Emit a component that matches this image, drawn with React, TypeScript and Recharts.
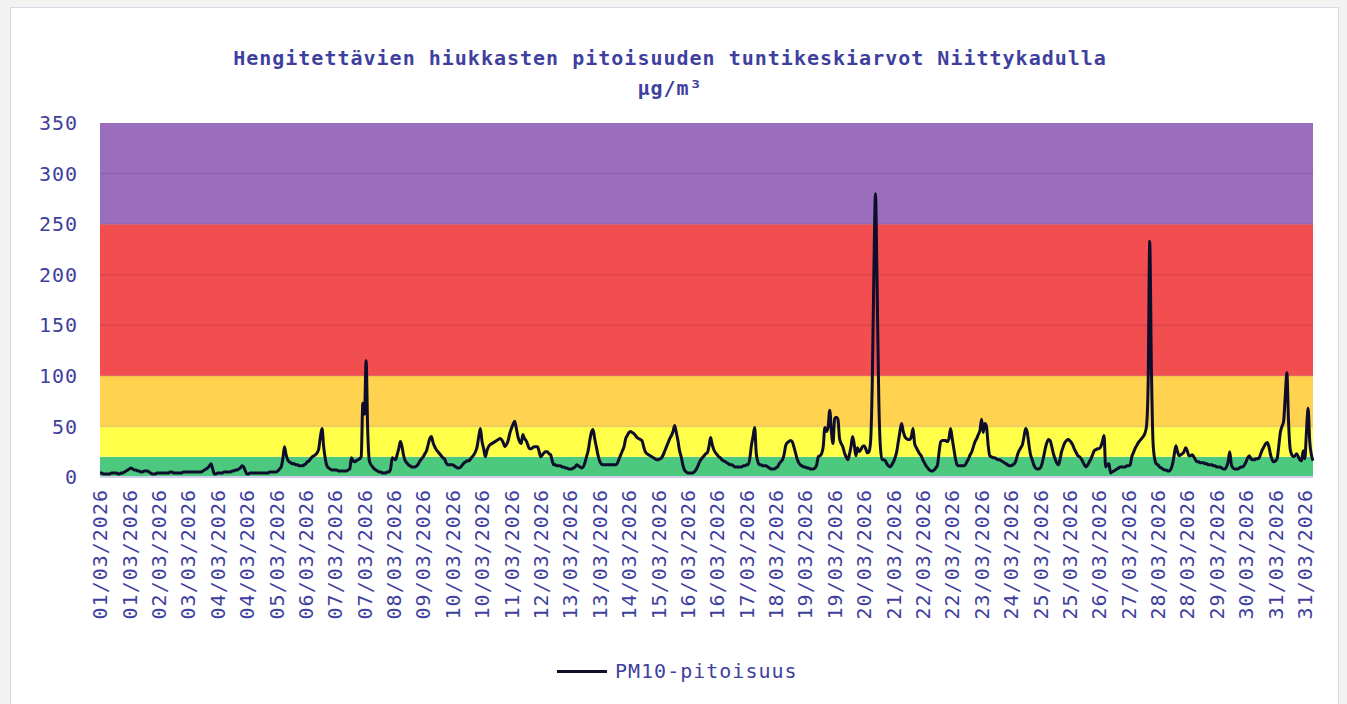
import React from "react";
import { LineChart, Line, XAxis, YAxis, ReferenceArea, ReferenceLine } from "recharts";

// hourly PM10 values, one array per day of March 2026 (hours 00..23)
const d01 = [4, 4, 3, 3, 3, 3, 3, 4, 4, 4, 4, 3, 3, 4, 4, 5, 6, 7, 8, 9, 8, 7, 7, 6];
const d02 = [6, 5, 5, 6, 6, 6, 5, 4, 3, 3, 3, 4, 4, 4, 4, 4, 4, 4, 4, 5, 5, 4, 4, 4];
const d03 = [4, 4, 4, 5, 5, 5, 5, 5, 5, 5, 5, 5, 5, 5, 5, 6, 7, 8, 9, 11, 13, 8, 3, 3];
const d04 = [4, 4, 4, 4, 5, 5, 5, 5, 5, 6, 6, 7, 7, 8, 9, 11, 10, 6, 3, 3, 4, 4, 4, 4];
const d05 = [4, 4, 4, 4, 4, 4, 4, 4, 5, 5, 5, 5, 5, 6, 8, 10, 18, 30, 22, 17, 15, 14, 13, 13];
const d06 = [12, 12, 11, 11, 11, 12, 13, 15, 16, 18, 20, 21, 22, 24, 28, 40, 48, 30, 18, 11, 9, 8, 7, 7];
const d07 = [7, 7, 6, 6, 6, 6, 6, 6, 7, 8, 19, 16, 15, 16, 17, 18, 20, 73, 62, 115, 45, 16, 12, 10];
const d08 = [8, 7, 6, 5, 5, 4, 4, 4, 5, 5, 8, 19, 18, 17, 22, 28, 35, 30, 21, 16, 14, 12, 11, 10];
const d09 = [10, 10, 11, 13, 16, 18, 20, 23, 26, 32, 38, 40, 34, 30, 27, 25, 23, 21, 19, 18, 14, 12, 12, 12];
const d10 = [12, 11, 10, 9, 9, 10, 12, 14, 15, 16, 16, 18, 20, 22, 25, 30, 40, 48, 35, 28, 20, 26, 30, 32];
const d11 = [33, 34, 35, 36, 37, 38, 37, 34, 30, 32, 36, 43, 48, 52, 55, 48, 40, 35, 33, 42, 38, 36, 32, 28];
const d12 = [28, 29, 30, 30, 30, 25, 20, 22, 24, 25, 25, 23, 22, 16, 12, 12, 11, 11, 11, 10, 10, 9, 9, 8];
const d13 = [8, 8, 9, 10, 12, 11, 10, 9, 10, 14, 20, 26, 36, 44, 47, 38, 30, 22, 16, 13, 12, 12, 12, 12];
const d14 = [12, 12, 12, 12, 12, 14, 18, 22, 26, 30, 38, 41, 44, 45, 44, 43, 41, 39, 38, 37, 36, 30, 25, 23];
const d15 = [22, 21, 20, 19, 18, 17, 17, 18, 19, 22, 26, 30, 34, 38, 41, 45, 51, 44, 36, 26, 20, 12, 7, 5];
const d16 = [4, 4, 4, 4, 5, 7, 10, 14, 17, 19, 21, 23, 24, 30, 39, 32, 27, 24, 22, 20, 19, 17, 16, 15];
const d17 = [14, 13, 12, 12, 11, 10, 10, 10, 10, 10, 11, 11, 12, 12, 18, 31, 40, 49, 23, 15, 12, 12, 11, 11];
const d18 = [11, 10, 9, 8, 8, 8, 9, 10, 13, 15, 17, 22, 31, 34, 35, 36, 35, 30, 24, 18, 14, 12, 11, 10];
const d19 = [10, 9, 9, 8, 8, 8, 9, 12, 20, 21, 23, 30, 49, 45, 50, 66, 45, 33, 58, 59, 57, 38, 33, 30];
const d20 = [24, 20, 17, 22, 30, 40, 32, 21, 29, 25, 27, 30, 31, 28, 24, 25, 35, 90, 200, 280, 190, 80, 30, 17];
const d21 = [17, 16, 13, 11, 10, 12, 15, 19, 25, 35, 45, 53, 45, 40, 38, 37, 37, 40, 48, 33, 29, 26, 23, 21];
const d22 = [17, 14, 11, 9, 7, 6, 6, 7, 9, 12, 25, 35, 36, 36, 36, 35, 38, 48, 38, 28, 18, 12, 11, 11];
const d23 = [11, 11, 12, 15, 18, 22, 25, 30, 35, 38, 42, 46, 57, 44, 53, 50, 32, 21, 20, 19, 19, 18, 17, 17];
const d24 = [16, 15, 14, 13, 12, 11, 11, 12, 13, 16, 22, 26, 29, 32, 40, 48, 44, 32, 22, 17, 12, 9, 8, 8];
const d25 = [9, 13, 20, 28, 34, 37, 36, 30, 23, 18, 14, 12, 17, 25, 30, 34, 36, 37, 36, 34, 31, 27, 24, 21];
const d26 = [20, 18, 15, 12, 10, 12, 15, 18, 22, 26, 27, 28, 28, 30, 35, 41, 10, 12, 13, 4, 5, 6, 7, 8];
const d27 = [9, 10, 10, 10, 10, 11, 11, 12, 20, 24, 28, 31, 34, 36, 38, 40, 43, 50, 90, 233, 110, 35, 18, 13];
const d28 = [12, 10, 9, 8, 7, 7, 6, 6, 8, 13, 22, 31, 25, 21, 22, 23, 25, 29, 26, 21, 21, 22, 20, 17];
const d29 = [15, 15, 14, 14, 14, 13, 13, 12, 12, 12, 11, 11, 10, 10, 10, 9, 8, 8, 10, 15, 25, 12, 9, 8];
const d30 = [8, 8, 9, 10, 10, 12, 15, 19, 21, 18, 17, 17, 18, 18, 19, 23, 27, 30, 33, 34, 30, 22, 17, 15];
const d31 = [16, 18, 30, 44, 50, 55, 80, 103, 55, 28, 22, 20, 21, 23, 20, 17, 16, 26, 18, 45, 68, 35, 22, 16];

const days = [d01, d02, d03, d04, d05, d06, d07, d08, d09, d10, d11, d12, d13, d14, d15, d16,
  d17, d18, d19, d20, d21, d22, d23, d24, d25, d26, d27, d28, d29, d30, d31];

const yTicks = [0, 50, 100, 150, 200, 250, 300, 350];
const gridLevels = [50, 100, 150, 200, 250, 300];

// air quality bands (from, to, colour)
const bands: [number, number, string][] = [
  [0, 20, "#4dc87f"],
  [20, 50, "#ffff4a"],
  [50, 100, "#ffd24f"],
  [100, 250, "#f24e4f"],
  [250, 350, "#9a6dbd"],
];

const data = days.flatMap((vals, d) =>
  vals.map((v, h) => {
    const dd = String(d + 1).padStart(2, "0");
    return { t: `${dd}/03/2026 ${String(h).padStart(2, "0")}`, pm10: v };
  })
);

const FONT = "'DejaVu Sans Mono', 'Liberation Mono', monospace";
const INK = "#3f3fa0";

function DateTick(props: any) {
  const { x, payload } = props;
  return (
    <g transform={`translate(${x},489) rotate(-90)`}>
      <text textAnchor="end" dy="0.36em" fill={INK} fontSize={20} fontFamily={FONT} letterSpacing={1}>
        {String(payload.value).slice(0, 10)}
      </text>
    </g>
  );
}

export default function App() {
  return (
    <div style={{ position: "fixed", left: 0, top: 0, width: 1347, height: 704, background: "#f2f2f2", overflow: "hidden" }}>
      <div style={{ position: "absolute", left: 10, top: 7, width: 1327, height: 720, background: "#fff", border: "1px solid #d9d9e6" }} />
      <div style={{ position: "absolute", left: 0, top: 0, width: 1347, textAlign: "center", fontFamily: FONT, color: INK, fontWeight: "bold", fontSize: 20, letterSpacing: 1, lineHeight: "30px" }}>
        <div style={{ position: "absolute", left: 0, width: 1340, top: 43 }}>Hengitettävien hiukkasten pitoisuuden tuntikeskiarvot Niittykadulla</div>
        <div style={{ position: "absolute", left: 0, width: 1340, top: 73 }}>µg/m³</div>
      </div>
      <div style={{ position: "absolute", left: 0, top: 0 }}>
        <LineChart width={1347} height={704} data={data} margin={{ top: 123, right: 34, bottom: 77, left: 0 }}>
          {bands.map(([a, b, c]) => (
            <ReferenceArea key={a} y1={a} y2={b} fill={c} fillOpacity={1} stroke="none" />
          ))}
          {gridLevels.map((g) => (
            <ReferenceLine key={g} y={g} stroke="rgba(60,20,60,0.13)" strokeWidth={1.5} />
          ))}
          <XAxis
            dataKey="t"
            interval={17}
            height={150}
            tickLine={false}
            axisLine={{ stroke: "#cfcfec", strokeWidth: 2 }}
            tick={<DateTick />}
          />
          <YAxis
            domain={[0, 350]}
            ticks={yTicks}
            width={100}
            axisLine={false}
            tickLine={false}
            tickMargin={16}
            tick={{ fill: INK, fontSize: 20, fontFamily: FONT, letterSpacing: 1 }}
          />
          <Line
            type="monotone"
            dataKey="pm10"
            stroke="#0e0e2c"
            strokeWidth={3}
            strokeLinejoin="round"
            dot={false}
            isAnimationActive={false}
          />
        </LineChart>
      </div>
      <div style={{ position: "absolute", left: 557, top: 659, display: "flex", alignItems: "center", fontFamily: FONT, color: INK, fontSize: 20, letterSpacing: 1 }}>
        <span style={{ display: "inline-block", width: 50, height: 3, background: "#0e0e2c", marginRight: 8 }} />
        <span>PM10-pitoisuus</span>
      </div>
    </div>
  );
}
